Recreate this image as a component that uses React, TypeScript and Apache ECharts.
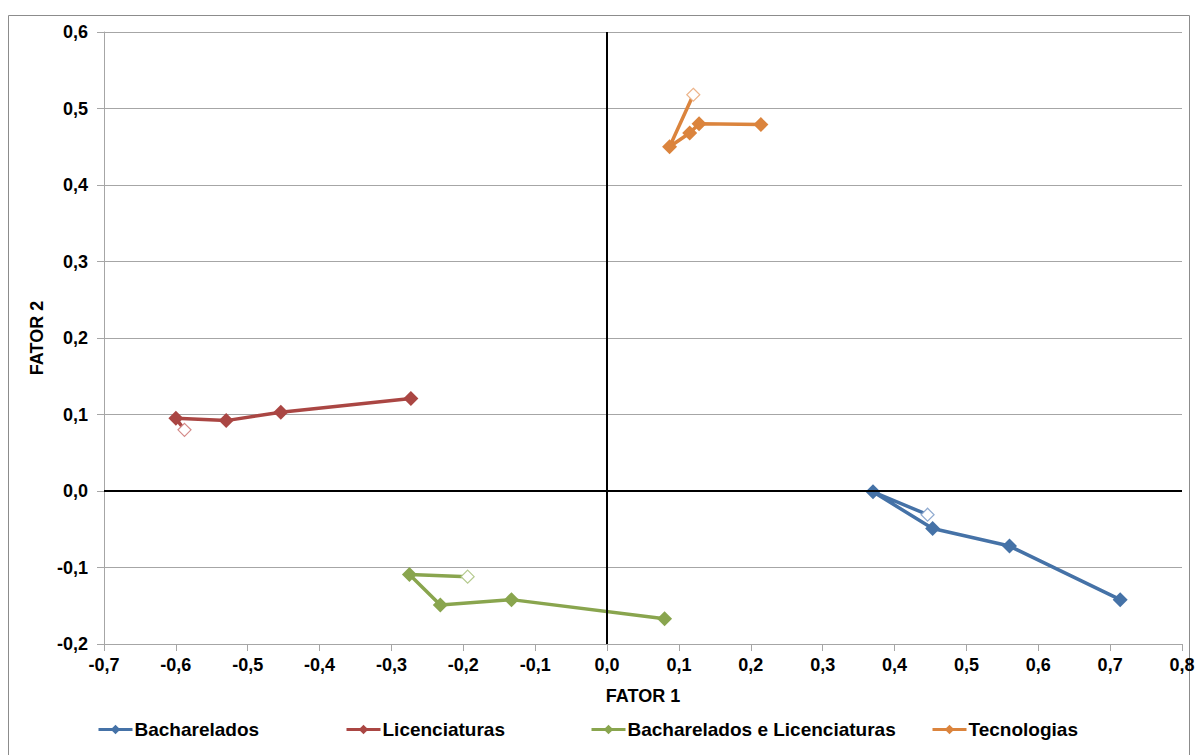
import React, { useEffect, useRef } from "react";
import * as echarts from "echarts";

const seriesNames = ["Bacharelados", "Licenciaturas", "Bacharelados e Licenciaturas", "Tecnologias"];
const seriesColors = ["#4572A7", "#AA4643", "#89A54E", "#DB843D"];
const hollowColors = ["#8FAAD0", "#D48A88", "#B5CA8E", "#EDB48A"];

// points in drawing order; the last point of each series is the hollow marker
const bacharelados = [[0.714, -0.142], [0.56, -0.072], [0.453, -0.049], [0.37, -0.001], [0.446, -0.031]];
const licenciaturas = [[-0.273, 0.121], [-0.454, 0.103], [-0.53, 0.092], [-0.6, 0.095], [-0.588, 0.08]];
const bachLic = [[0.08, -0.167], [-0.133, -0.142], [-0.232, -0.149], [-0.275, -0.109], [-0.194, -0.112]];
const tecnologias = [[0.214, 0.479], [0.128, 0.48], [0.115, 0.468], [0.087, 0.45], [0.12, 0.518]];

const allData = [bacharelados, licenciaturas, bachLic, tecnologias];
const legendLefts = [97, 345, 590, 931];

const FONT = "'Liberation Sans', Arial, sans-serif";
const fmt = (v: number) => v.toFixed(1).replace(".", ",");

export default function App() {
  const ref = useRef<HTMLDivElement>(null);
  useEffect(() => {
    if (!ref.current) return;
    const chart = echarts.init(ref.current, null, { renderer: "svg" });
    const series: any[] = [
      {
        type: "line",
        name: "zero",
        data: [],
        silent: true,
        z: 1,
        markLine: {
          silent: true,
          symbol: ["none", "none"],
          label: { show: false },
          lineStyle: { color: "#000", width: 2, type: "solid" },
          data: [{ xAxis: 0 }, { yAxis: 0 }],
        },
      },
    ];
    allData.forEach((pts, si) => {
      series.push({
        type: "line",
        name: seriesNames[si],
        z: 3,
        symbol: "diamond",
        symbolSize: 15,
        color: seriesColors[si],
        lineStyle: { color: seriesColors[si], width: 3.5 },
        itemStyle: { color: seriesColors[si] },
        data: pts.map((p, i) =>
          i === pts.length - 1
            ? {
                value: p,
                symbolSize: 13,
                itemStyle: { color: "#fff", borderColor: hollowColors[si], borderWidth: 1.2 },
              }
            : { value: p }
        ),
      });
    });
    chart.setOption({
      animation: false,
      backgroundColor: "#fff",
      textStyle: { fontFamily: FONT },
      grid: { left: 104, right: 16, top: 32, bottom: 111 },
      legend: seriesNames.map((n, i) => ({
        data: [n],
        left: legendLefts[i],
        top: 720,
        padding: 0,
        itemWidth: 34,
        itemHeight: 12,
        itemGap: 0,
        lineStyle: { width: 3 },
        textStyle: {
          fontFamily: FONT,
          fontSize: 19,
          fontWeight: "bold",
          color: "#000",
          padding: [0, 0, 0, -3],
        },
      })),
      xAxis: {
        type: "value",
        min: -0.7,
        max: 0.8,
        interval: 0.1,
        axisLine: { onZero: false, lineStyle: { color: "#a6a6a6", width: 1 } },
        axisTick: { show: true, length: 7, inside: false, lineStyle: { color: "#a6a6a6" } },
        splitLine: { show: false },
        axisLabel: {
          margin: 12,
          formatter: fmt,
          fontFamily: FONT,
          fontSize: 18,
          fontWeight: "bold",
          color: "#000",
        },
        name: "FATOR 1",
        nameLocation: "middle",
        nameGap: 43,
        nameTextStyle: { fontFamily: FONT, fontSize: 18, fontWeight: "bold", color: "#000" },
      },
      yAxis: {
        type: "value",
        min: -0.2,
        max: 0.6,
        interval: 0.1,
        axisLine: { show: true, onZero: false, lineStyle: { color: "#a6a6a6", width: 1 } },
        axisTick: { show: true, length: 7, inside: false, lineStyle: { color: "#a6a6a6" } },
        splitLine: { show: true, lineStyle: { color: "#a6a6a6", width: 1 } },
        axisLabel: {
          margin: 16,
          formatter: fmt,
          fontFamily: FONT,
          fontSize: 18,
          fontWeight: "bold",
          color: "#000",
        },
        name: "FATOR 2",
        nameLocation: "middle",
        nameGap: 54,
        nameTextStyle: { fontFamily: FONT, fontSize: 18, fontWeight: "bold", color: "#000" },
      },
      graphic: [
        {
          type: "rect",
          silent: true,
          shape: { x: 8.5, y: 15.5, width: 1181, height: 800 },
          style: { fill: "none", stroke: "#8c8c8c", lineWidth: 1 },
          z: -10,
        },
      ],
      series,
    });
    return () => chart.dispose();
  }, []);
  return <div ref={ref} style={{ width: 1198, height: 755, position: "absolute", left: 0, top: 0 }} />;
}
